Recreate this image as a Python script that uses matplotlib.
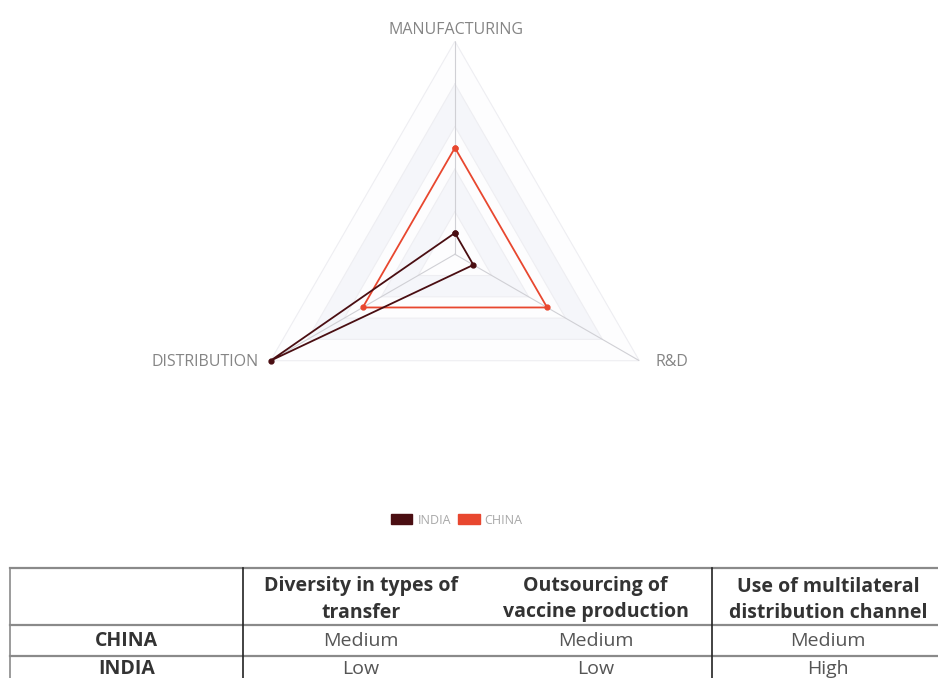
import numpy as np
import matplotlib.pyplot as plt

# radar data (0-10 scale): Low=1, Medium=5, High=10
categories = ['MANUFACTURING', 'R&D', 'DISTRIBUTION']
india = [1, 1, 10]
china = [5, 5, 5]
grid_levels = [2, 4, 6, 8, 10]

# table data
col_headers = ['', 'Diversity in types of\ntransfer', 'Outsourcing of\nvaccine production',
               'Use of multilateral\ndistribution channel']
row_names = ['CHINA', 'INDIA']
row_values = [['Medium', 'Medium', 'Medium'],
              ['Low', 'Low', 'High']]

india_color = '#4a0e12'
china_color = '#e8472f'
font = 'Open Sans'

fig = plt.figure(figsize=(9.38, 6.78), dpi=100)

# ---- radar
ax = fig.add_axes([0.258, 0.311, 0.454, 0.628], polar=True)
ax.set_theta_offset(np.pi / 2)
ax.set_theta_direction(-1)
angles = np.linspace(0, 2 * np.pi, len(categories), endpoint=False).tolist()
loop = angles + angles[:1]

# triangular grid with faint alternating bands (outer to inner)
band_colors = ['#fdfdfe', '#f5f6fa']
for i, lv in enumerate(grid_levels[::-1]):
    ring = [lv] * len(loop)
    ax.fill(loop, ring, color=band_colors[i % 2], zorder=0.1 + i * 0.1, lw=0)
    ax.plot(loop, ring, color='#eeeef2', lw=0.8, zorder=1)
for a in angles:
    ax.plot([a, a], [0, grid_levels[-1]], color='#d0d0d5', lw=0.8, zorder=1.2)

ax.plot(loop, china + china[:1], color=china_color, lw=1.3, marker='o', ms=3.5,
        zorder=3, clip_on=False)
ax.plot(loop, india + india[:1], color=india_color, lw=1.3, marker='o', ms=3.5,
        zorder=4, clip_on=False)

ax.set_ylim(0, 10)
ax.set_xticks([])
ax.set_yticks([])
ax.grid(False)
ax.spines['polar'].set_visible(False)
ax.set_facecolor('none')

label_pos = [(0.486, 0.956, 'center'), (0.699, 0.466, 'left'), (0.276, 0.466, 'right')]
for (x, y, ha), name in zip(label_pos, categories):
    fig.text(x, y, name, ha=ha, va='center', fontsize=11.5, color='#858585', family=font)

# legend
handles = [plt.Rectangle((0, 0), 1, 1, color=india_color),
           plt.Rectangle((0, 0), 1, 1, color=china_color)]
fig.legend(handles, ['INDIA', 'CHINA'], loc='center', bbox_to_anchor=(0.487, 0.233),
           ncol=2, frameon=False, prop={'family': font, 'size': 9}, labelcolor='#a8a8a8',
           handlelength=1.7, handleheight=0.8, handletextpad=0.4, columnspacing=0.6)

# ---- table (drawn in pixel coordinates)
tax = fig.add_axes([0, 0, 1, 1])
tax.set_xlim(0, 938)
tax.set_ylim(678, 0)
tax.axis('off')
col_edges = [10, 243, 479, 712, 944]
row_edges = [568, 625, 656, 687]
for y in row_edges:
    tax.plot([col_edges[0], col_edges[-1]], [y, y], color='#8a8a8a', lw=1.6)
tax.plot([col_edges[0]] * 2, [row_edges[0], row_edges[-1]], color='#8a8a8a', lw=1.2)
for x in [col_edges[1], col_edges[3]]:
    tax.plot([x, x], [row_edges[0], row_edges[-1]], color='#222222', lw=1.2)

for j, h in enumerate(col_headers):
    cx = (col_edges[j] + col_edges[j + 1]) / 2
    tax.text(cx, (row_edges[0] + row_edges[1]) / 2 + 3, h, ha='center', va='center',
             fontsize=14, fontweight='bold', family=font, color='#333333', linespacing=1.4)
for i, name in enumerate(row_names):
    cy = (row_edges[i + 1] + row_edges[i + 2]) / 2 - 2 * i
    tax.text((col_edges[0] + col_edges[1]) / 2, cy, name, ha='center', va='center',
             fontsize=14, fontweight='bold', family=font, color='#333333')
    for j, v in enumerate(row_values[i]):
        cx = (col_edges[j + 1] + col_edges[j + 2]) / 2
        tax.text(cx, cy, v, ha='center', va='center', fontsize=14, family=font, color='#555555')

fig.savefig('out.png', dpi=100)
